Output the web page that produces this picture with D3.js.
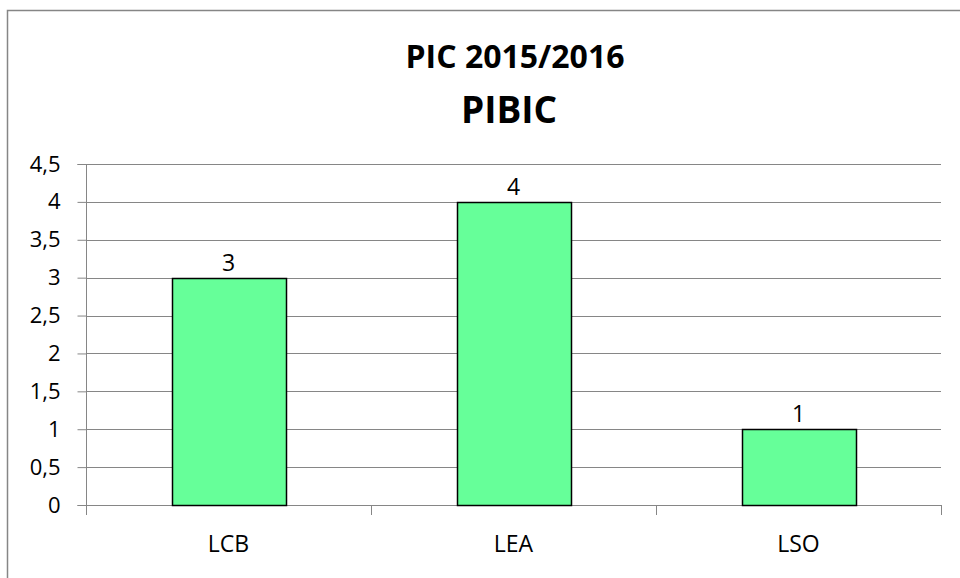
<!DOCTYPE html>
<html>
<head>
<meta charset="utf-8">
<script src="https://cdn.jsdelivr.net/npm/d3@7"></script>
<style>
  body { margin: 0; background: #fff; }
  text { font-family: "Open Sans", sans-serif; fill: #000; }
</style>
</head>
<body>
<svg id="chart" width="960" height="578"></svg>
<script>
// chart data
const categories = ['LCB', 'LEA', 'LSO'];
const values = [3, 4, 1];
const yTicks = [0, 0.5, 1, 1.5, 2, 2.5, 3, 3.5, 4, 4.5];
const titles = ['PIC 2015/2016', 'PIBIC'];

const svg = d3.select('#chart');
const plot = { left: 86, right: 941, top: 164, bottom: 505 };

// outer frame, right and bottom edges run off the picture
svg.append('rect')
  .attr('x', 7.5)
  .attr('y', 10.5)
  .attr('width', 1000)
  .attr('height', 1000)
  .attr('fill', 'none')
  .attr('stroke', '#868686')
  .attr('stroke-width', 1.5);

const x = d3.scaleBand()
  .domain(categories)
  .range([plot.left, plot.right])
  .paddingInner(0.6)
  .paddingOuter(0.3);

const y = d3.scaleLinear()
  .domain([0, 4.5])
  .range([plot.bottom, plot.top]);

const fmt = d => String(d).replace('.', ',');

// gridlines
svg.append('g')
  .selectAll('line')
  .data(yTicks.slice(1))
  .join('line')
  .attr('x1', plot.left)
  .attr('x2', plot.right)
  .attr('y1', d => Math.round(y(d)) + 0.5)
  .attr('y2', d => Math.round(y(d)) + 0.5)
  .attr('stroke', '#868686')
  .attr('stroke-width', 1);

// y axis
const yAxis = svg.append('g')
  .attr('transform', `translate(${plot.left + 0.5},0.5)`)
  .call(d3.axisLeft(y).tickValues(yTicks).tickFormat(fmt).tickSize(9).tickPadding(17).offset(0));
yAxis.select('.domain').attr('stroke', '#868686');
yAxis.selectAll('.tick line').attr('stroke', '#868686');
yAxis.selectAll('.tick text')
  .attr('font-size', 22)
  .attr('font-family', '"Open Sans", sans-serif')
  .attr('fill', '#000');

// x axis with ticks on band edges
const edges = d3.range(categories.length + 1).map(i => plot.left + i * (plot.right - plot.left) / categories.length);
const xAxis = svg.append('g');
xAxis.append('line')
  .attr('x1', plot.left)
  .attr('x2', plot.right)
  .attr('y1', Math.round(y(0)) + 0.5)
  .attr('y2', Math.round(y(0)) + 0.5)
  .attr('stroke', '#868686');
xAxis.selectAll('line.edge')
  .data(edges)
  .join('line')
  .attr('class', 'edge')
  .attr('x1', d => Math.round(d) + 0.5)
  .attr('x2', d => Math.round(d) + 0.5)
  .attr('y1', Math.round(y(0)))
  .attr('y2', Math.round(y(0)) + 10)
  .attr('stroke', '#868686');
xAxis.selectAll('text')
  .data(categories)
  .join('text')
  .attr('x', d => x(d) + x.bandwidth() / 2)
  .attr('y', 552)
  .attr('text-anchor', 'middle')
  .attr('font-size', 23)
  .text(d => d);

// bars
svg.append('g')
  .selectAll('rect')
  .data(values)
  .join('rect')
  .attr('x', (d, i) => Math.round(x(categories[i])) + 0.5)
  .attr('y', d => Math.round(y(d)) + 0.5)
  .attr('width', x.bandwidth())
  .attr('height', d => Math.round(y(0)) - Math.round(y(d)))
  .attr('fill', '#66ff99')
  .attr('stroke', '#000')
  .attr('stroke-width', 1.5);

// value labels
svg.append('g')
  .selectAll('text')
  .data(values)
  .join('text')
  .attr('x', (d, i) => x(categories[i]) + x.bandwidth() / 2)
  .attr('y', d => y(d) - 7)
  .attr('text-anchor', 'middle')
  .attr('font-size', 23)
  .text(d => fmt(d));

// titles
svg.append('text')
  .attr('x', 515)
  .attr('y', 68)
  .attr('text-anchor', 'middle')
  .attr('font-size', 32)
  .attr('font-weight', 'bold')
  .text(titles[0]);
svg.append('text')
  .attr('x', 509)
  .attr('y', 123)
  .attr('text-anchor', 'middle')
  .attr('font-size', 37)
  .attr('font-weight', 'bold')
  .text(titles[1]);
</script>
</body>
</html>
